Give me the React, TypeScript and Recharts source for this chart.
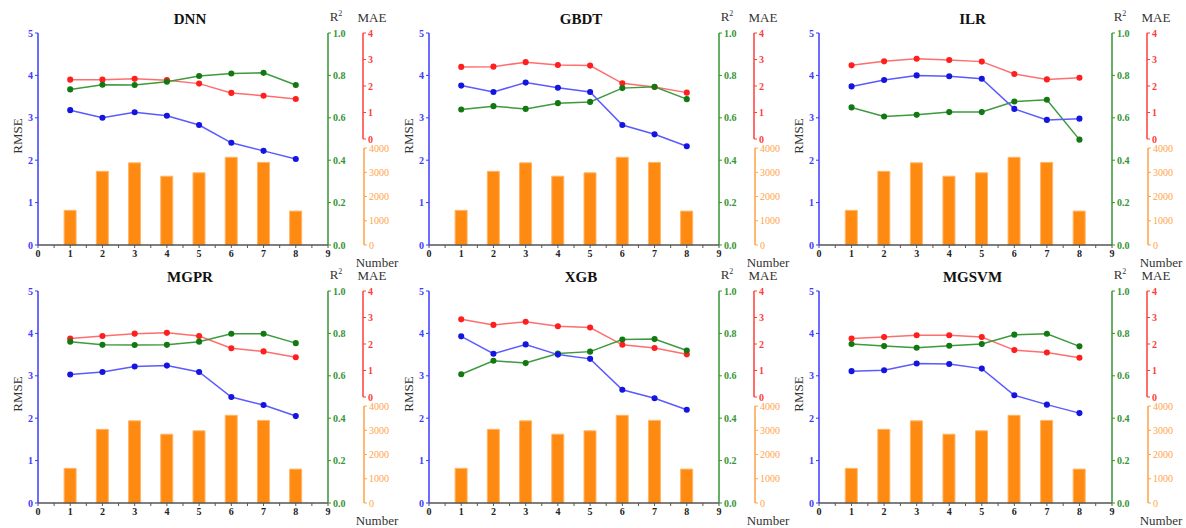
import { Bar, ComposedChart, Line, XAxis, YAxis } from 'recharts'

const xs = [1, 2, 3, 4, 5, 6, 7, 8]
const counts = [1430, 3040, 3390, 2840, 2980, 3620, 3410, 1400]

const xTicks = [0, 0.5, 1, 1.5, 2, 2.5, 3, 3.5, 4, 4.5, 5, 5.5, 6, 6.5, 7, 7.5, 8, 8.5, 9]
const rmseTicks = [0, 1, 2, 3, 4, 5]
const r2Ticks = [0, 0.2, 0.4, 0.6, 0.8, 1]
const maeTicks = [0, 1, 2, 3, 4]
const numTicks = [0, 1000, 2000, 3000, 4000]

const dnnRmse = [3.18, 3.0, 3.13, 3.05, 2.83, 2.41, 2.22, 2.03]
const dnnR2 = [0.734, 0.756, 0.755, 0.77, 0.797, 0.809, 0.812, 0.755]
const dnnMae = [2.24, 2.24, 2.27, 2.22, 2.09, 1.74, 1.63, 1.51]

const gbdtRmse = [3.76, 3.61, 3.83, 3.71, 3.61, 2.83, 2.61, 2.33]
const gbdtR2 = [0.639, 0.655, 0.642, 0.669, 0.675, 0.74, 0.746, 0.688]
const gbdtMae = [2.72, 2.73, 2.9, 2.79, 2.77, 2.1, 1.96, 1.75]

const ilrRmse = [3.74, 3.89, 4.0, 3.98, 3.92, 3.21, 2.95, 2.98]
const ilrR2 = [0.649, 0.606, 0.614, 0.627, 0.627, 0.677, 0.685, 0.497]
const ilrMae = [2.78, 2.93, 3.03, 2.98, 2.92, 2.45, 2.25, 2.31]

const mgprRmse = [3.03, 3.09, 3.22, 3.24, 3.09, 2.5, 2.31, 2.05]
const mgprR2 = [0.761, 0.746, 0.745, 0.746, 0.761, 0.798, 0.798, 0.754]
const mgprMae = [2.21, 2.3, 2.39, 2.42, 2.3, 1.84, 1.72, 1.5]

const xgbRmse = [3.93, 3.52, 3.74, 3.5, 3.4, 2.67, 2.47, 2.2]
const xgbR2 = [0.607, 0.671, 0.66, 0.705, 0.714, 0.771, 0.773, 0.719]
const xgbMae = [2.93, 2.72, 2.84, 2.67, 2.62, 1.97, 1.85, 1.61]

const mgsvmRmse = [3.11, 3.13, 3.29, 3.28, 3.17, 2.54, 2.32, 2.12]
const mgsvmR2 = [0.75, 0.74, 0.732, 0.742, 0.75, 0.794, 0.798, 0.739]
const mgsvmMae = [2.21, 2.26, 2.33, 2.33, 2.26, 1.77, 1.68, 1.48]

const panels = [
  { name: 'DNN', rmse: dnnRmse, r2: dnnR2, mae: dnnMae },
  { name: 'GBDT', rmse: gbdtRmse, r2: gbdtR2, mae: gbdtMae },
  { name: 'ILR', rmse: ilrRmse, r2: ilrR2, mae: ilrMae },
  { name: 'MGPR', rmse: mgprRmse, r2: mgprR2, mae: mgprMae },
  { name: 'XGB', rmse: xgbRmse, r2: xgbR2, mae: xgbMae },
  { name: 'MGSVM', rmse: mgsvmRmse, r2: mgsvmR2, mae: mgsvmMae },
]

// layout (px)
const FONT = '"Liberation Serif", "DejaVu Serif", serif'
const PLOT_TOP = 33
const PLOT_H = 212
const LEFT_W = 38
const R2_W = 35
const MAE_W = 1
const X_H = 25
const CHART_W = 400
const CHART_H = PLOT_TOP + PLOT_H + X_H
const colLeft = [0, 391, 781]
const colPlotW = [290, 290, 293]
const rowTop = [0, 258]

const BLUE = '#3b3bff'
const GREEN = '#359435'
const RED = '#ff3c3c'
const ORANGE = '#ffa34a'
const BAR = '#ff8a12'

const MAE_DOMAIN: [number, number] = [-4, 4]
const NUM_DOMAIN: [number, number] = [0, 8750]

function tickStyle(fill: string, bold = true) {
  return { fill, fontSize: 10, fontWeight: bold ? 700 : 400, fontFamily: FONT }
}

function Panel(props: {
  name: string
  rmse: number[]
  r2: number[]
  mae: number[]
  left: number
  top: number
  plotW: number
}) {
  const { name, rmse, r2, mae, left, top, plotW } = props
  const data = xs.map((x, i) => ({ x, n: counts[i], rmse: rmse[i], r2: r2[i], mae: mae[i] }))
  const numW = CHART_W - LEFT_W - plotW - R2_W - MAE_W

  // the MAE and Number axes share one vertical line, each only on its own part
  const maeLen = (PLOT_H * maeTicks[maeTicks.length - 1]) / (MAE_DOMAIN[1] - MAE_DOMAIN[0])
  const numLen = (PLOT_H * numTicks[numTicks.length - 1]) / NUM_DOMAIN[1]

  const label = (text: React.ReactNode, x: number, y: number, extra: React.CSSProperties = {}) => (
    <div
      style={{
        position: 'absolute',
        left: left + x,
        top: top + y,
        transform: 'translate(-50%, -50%)',
        whiteSpace: 'nowrap',
        fontFamily: FONT,
        fontSize: 13,
        color: '#333',
        lineHeight: 1,
        ...extra,
      }}
    >
      {text}
    </div>
  )

  const rightX = LEFT_W + plotW
  // right axes are laid out by id order: a_r2 next to the plot, then b_mae / c_num
  return (
    <>
      <div style={{ position: 'absolute', left, top }}>
        <ComposedChart
          width={CHART_W}
          height={CHART_H}
          data={data}
          margin={{ top: PLOT_TOP, right: 0, bottom: 0, left: 0 }}
        >
          <XAxis
            dataKey="x"
            type="number"
            domain={[0, 9]}
            ticks={xTicks}
            interval={0}
            height={X_H}
            tickSize={3}
            tickFormatter={(v: number) => (Number.isInteger(v) ? String(v) : '')}
            tick={tickStyle('#222')}
            axisLine={{ stroke: '#555', strokeWidth: 1.5 }}
            tickLine={{ stroke: '#555' }}
          />
          <XAxis
            xAxisId="top"
            orientation="top"
            type="number"
            domain={[0, 9]}
            height={0}
            tick={false}
            tickLine={false}
            axisLine={{ stroke: '#777', strokeWidth: 1.5 }}
          />
          <YAxis
            yAxisId="rmse"
            orientation="left"
            width={LEFT_W}
            domain={[0, 5]}
            ticks={rmseTicks}
            interval={0}
            tickSize={3}
            tick={tickStyle(BLUE)}
            axisLine={{ stroke: BLUE, strokeWidth: 1.5 }}
            tickLine={{ stroke: BLUE }}
          />
          <YAxis
            yAxisId="a_r2"
            orientation="right"
            width={R2_W}
            domain={[0, 1]}
            ticks={r2Ticks}
            interval={0}
            tickSize={3}
            tickFormatter={(v: number) => v.toFixed(1)}
            tick={tickStyle(GREEN)}
            axisLine={{ stroke: GREEN, strokeWidth: 1.5 }}
            tickLine={{ stroke: GREEN }}
          />
          <YAxis
            yAxisId="b_mae"
            orientation="right"
            width={MAE_W}
            domain={MAE_DOMAIN}
            ticks={maeTicks}
            interval={0}
            tickSize={3}
            tick={tickStyle(RED)}
            axisLine={{ stroke: RED, strokeWidth: 1.5, strokeDasharray: `${maeLen} ${PLOT_H * 2}` }}
            tickLine={{ stroke: RED }}
          />
          <YAxis
            yAxisId="c_num"
            orientation="right"
            width={numW}
            domain={NUM_DOMAIN}
            ticks={numTicks}
            interval={0}
            tickSize={3}
            tick={tickStyle(ORANGE, false)}
            axisLine={{
              stroke: ORANGE,
              strokeWidth: 1.5,
              strokeDasharray: `0 ${PLOT_H - numLen} ${numLen} ${PLOT_H * 2}`,
            }}
            tickLine={{ stroke: ORANGE }}
          />
          <Bar
            yAxisId="c_num"
            dataKey="n"
            barSize={12}
            fill={BAR}
            stroke="#ffb566"
            strokeWidth={1}
            isAnimationActive={false}
          />
          <Line
            yAxisId="b_mae"
            dataKey="mae"
            type="linear"
            stroke="#ff6e6e"
            strokeWidth={1.5}
            dot={{ r: 2.3, fill: '#ff1f1f', stroke: '#ff1f1f' }}
            isAnimationActive={false}
          />
          <Line
            yAxisId="a_r2"
            dataKey="r2"
            type="linear"
            stroke="#3d9a3d"
            strokeWidth={1.5}
            dot={{ r: 2.3, fill: '#137813', stroke: '#137813' }}
            isAnimationActive={false}
          />
          <Line
            yAxisId="rmse"
            dataKey="rmse"
            type="linear"
            stroke="#5a5aff"
            strokeWidth={1.5}
            dot={{ r: 2.3, fill: '#1515e0', stroke: '#1515e0' }}
            isAnimationActive={false}
          />
        </ComposedChart>
      </div>
      {label(name, LEFT_W + plotW / 2 + 7, 19, { fontSize: 15, fontWeight: 700, color: '#111' })}
      {label(
        <span>
          R<sup style={{ fontSize: 8 }}>2</sup>
        </span>,
        rightX + 8,
        17,
      )}
      {label('MAE', rightX + R2_W + 9, 17)}
      {label('Number', rightX + R2_W + 14, 262)}
      {label('RMSE', 17, 136, { transform: 'translate(-50%, -50%) rotate(-90deg)' })}
    </>
  )
}

export default function App() {
  return (
    <div
      style={{
        position: 'absolute',
        left: 0,
        top: 0,
        width: 1186,
        height: 528,
        background: '#fff',
        overflow: 'hidden',
      }}
    >
      {panels.map((p, i) => {
        const col = i % 3
        const row = Math.floor(i / 3)
        return (
          <Panel
            key={p.name}
            name={p.name}
            rmse={p.rmse}
            r2={p.r2}
            mae={p.mae}
            left={colLeft[col]}
            top={rowTop[row]}
            plotW={colPlotW[col]}
          />
        )
      })}
    </div>
  )
}
